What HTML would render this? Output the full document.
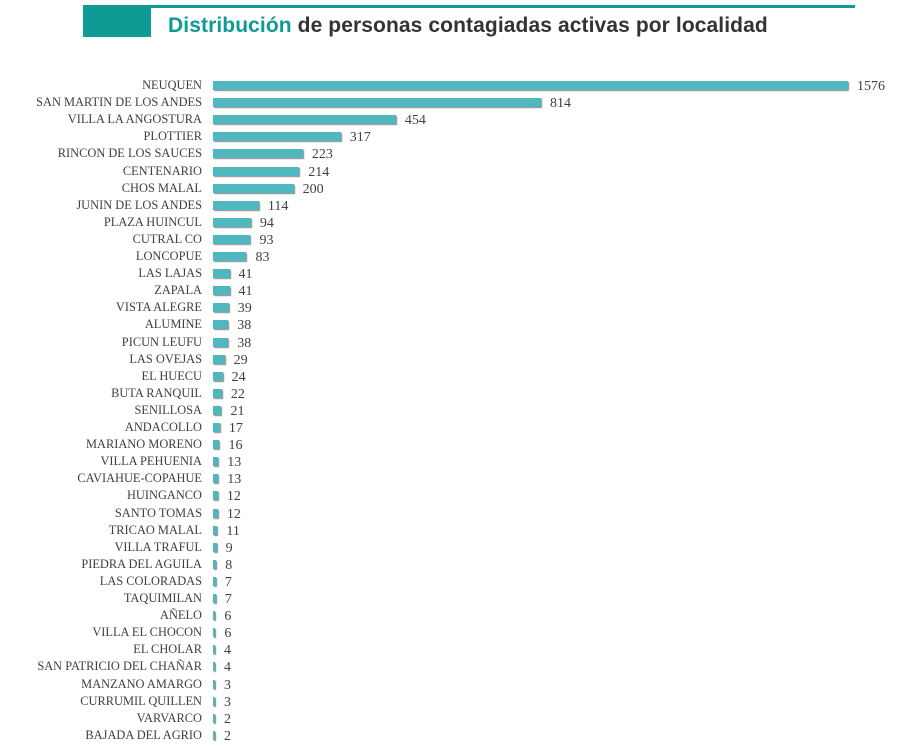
<!DOCTYPE html><html><head><meta charset="utf-8"><style>
body{margin:0;width:909px;height:747px;background:#fff;position:relative;overflow:hidden;font-family:"Liberation Serif",serif}
.l{position:absolute;right:707px;font-size:12.4px;color:#404040;white-space:nowrap;line-height:14px}
.b{position:absolute;left:213px;height:9px;background:#4fb8bf;box-shadow:1px 1px 1px #888}
.v{position:absolute;font-size:14px;color:#404040;line-height:14px}
</style></head><body>
<div style="position:absolute;left:83px;top:5px;width:68px;height:32px;background:#0e9a95"></div>
<div style="position:absolute;left:151px;top:5px;width:704px;height:3px;background:#0e9a95"></div>
<div style="position:absolute;left:168px;top:14px;font-family:'Liberation Sans',sans-serif;font-weight:bold;font-size:21px;color:#333;white-space:nowrap;letter-spacing:0.1px"><span style="color:#0e9a95">Distribución</span> de personas contagiadas activas por localidad</div>
<div id="c"></div>
<script>
var d=[["NEUQUEN",1576],["SAN MARTIN DE LOS ANDES",814],["VILLA LA ANGOSTURA",454],["PLOTTIER",317],["RINCON DE LOS SAUCES",223],["CENTENARIO",214],["CHOS MALAL",200],["JUNIN DE LOS ANDES",114],["PLAZA HUINCUL",94],["CUTRAL CO",93],["LONCOPUE",83],["LAS LAJAS",41],["ZAPALA",41],["VISTA ALEGRE",39],["ALUMINE",38],["PICUN LEUFU",38],["LAS OVEJAS",29],["EL HUECU",24],["BUTA RANQUIL",22],["SENILLOSA",21],["ANDACOLLO",17],["MARIANO MORENO",16],["VILLA PEHUENIA",13],["CAVIAHUE-COPAHUE",13],["HUINGANCO",12],["SANTO TOMAS",12],["TRICAO MALAL",11],["VILLA TRAFUL",9],["PIEDRA DEL AGUILA",8],["LAS COLORADAS",7],["TAQUIMILAN",7],["AÑELO",6],["VILLA EL CHOCON",6],["EL CHOLAR",4],["SAN PATRICIO DEL CHAÑAR",4],["MANZANO AMARGO",3],["CURRUMIL QUILLEN",3],["VARVARCO",2],["BAJADA DEL AGRIO",2]];
var h="";d.forEach(function(r,i){var y=86+i*17.1;var w=Math.max(2,r[1]*635/1576);
h+='<div class="l" style="top:'+(y-8)+'px">'+r[0]+'</div><div class="b" style="top:'+(y-5)+'px;width:'+w+'px"></div><div class="v" style="top:'+(y-6)+'px;left:'+(213+w+9)+'px">'+r[1]+'</div>';});
document.getElementById("c").innerHTML=h;
</script></body></html>
